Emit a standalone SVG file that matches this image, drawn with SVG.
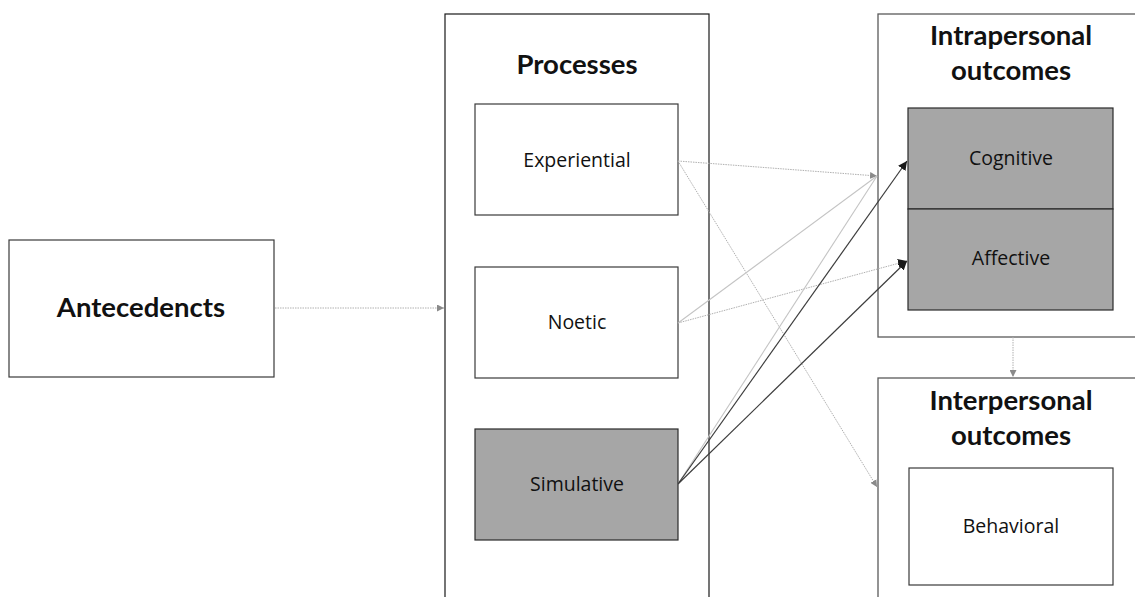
<svg xmlns="http://www.w3.org/2000/svg" width="1135" height="597" viewBox="0 0 1135 597">
  <style>
    .box { fill: #ffffff; stroke: #3a3a3a; stroke-width: 1.2; }
    .outer { fill: #ffffff; stroke: #1a1a1a; stroke-width: 1.2; }
    .group { fill: #ffffff; stroke: #5a5a5a; stroke-width: 1.3; }
    .shaded { fill: #a6a6a6; stroke: #2a2a2a; stroke-width: 1.2; }
    .title { font-family: Lato, "Open Sans", sans-serif; font-weight: bold; font-size: 27.5px; fill: #111; text-anchor: middle; }
    .label { font-family: "Open Sans", Lato, sans-serif; font-size: 19.5px; fill: #111; text-anchor: middle; }
    .light { fill: none; stroke: #b0b0b0; stroke-width: 1; stroke-dasharray: 1.5 1; }
    .lightsolid { fill: none; stroke: #c4c4c4; stroke-width: 1.1; }
    .dark { fill: none; stroke: #3c3c3c; stroke-width: 1.2; }
  </style>
  <defs>
    <marker id="tipGray" viewBox="0 0 10 10" refX="10" refY="5" markerWidth="7" markerHeight="7" markerUnits="userSpaceOnUse" orient="auto">
      <path d="M0,0 L10,5 L0,10 z" fill="#8a8a8a"/>
    </marker>
    <marker id="tipDark" viewBox="0 0 10 10" refX="10" refY="5" markerWidth="9" markerHeight="9" markerUnits="userSpaceOnUse" orient="auto">
      <path d="M0,0 L10,5 L0,10 z" fill="#1a1a1a"/>
    </marker>
  </defs>

  <rect width="1135" height="597" fill="#ffffff"/>

  <g id="antecedents">
    <rect class="box" x="9" y="240" width="265" height="137"/>
    <text class="title" x="141" y="317">Antecedencts</text>
  </g>

  <g id="processes">
    <rect class="outer" x="445" y="14" width="264" height="600"/>
    <text class="title" x="577" y="74">Processes</text>
  </g>
  <g id="experiential">
    <rect class="box" x="475" y="104" width="203" height="111"/>
    <text class="label" x="577" y="167">Experiential</text>
  </g>
  <g id="noetic">
    <rect class="box" x="475" y="267" width="203" height="111"/>
    <text class="label" x="577" y="329">Noetic</text>
  </g>
  <g id="simulative">
    <rect class="shaded" x="475" y="429" width="203" height="111"/>
    <text class="label" x="577" y="491">Simulative</text>
  </g>

  <g id="intrapersonal">
    <rect class="group" x="878" y="14" width="270" height="323"/>
    <text class="title" x="1011" y="45">Intrapersonal</text>
    <text class="title" x="1011" y="80">outcomes</text>
  </g>
  <g id="cognitive">
    <rect class="shaded" x="908" y="108" width="205" height="101"/>
    <text class="label" x="1011" y="165">Cognitive</text>
  </g>
  <g id="affective">
    <rect class="shaded" x="908" y="209" width="205" height="101"/>
    <text class="label" x="1011" y="265">Affective</text>
  </g>

  <g id="interpersonal">
    <rect class="group" x="878" y="378" width="270" height="240"/>
    <text class="title" x="1011" y="410">Interpersonal</text>
    <text class="title" x="1011" y="445">outcomes</text>
  </g>
  <g id="behavioral">
    <rect class="box" x="909" y="468" width="204" height="117"/>
    <text class="label" x="1011" y="533">Behavioral</text>
  </g>

  <g id="connectors">
    <line class="light" x1="275" y1="308" x2="444" y2="308" marker-end="url(#tipGray)"/>
    <line class="light" x1="678" y1="161" x2="877" y2="176" marker-end="url(#tipGray)"/>
    <line class="light" x1="678" y1="161" x2="877" y2="487" marker-end="url(#tipGray)"/>
    <line class="lightsolid" x1="678" y1="323" x2="877" y2="176"/>
    <line class="light" x1="678" y1="323" x2="907" y2="261" marker-end="url(#tipDark)"/>
    <line class="lightsolid" x1="678" y1="484" x2="877" y2="176"/>
    <line class="dark" x1="678" y1="484" x2="907" y2="161" marker-end="url(#tipDark)"/>
    <line class="dark" x1="678" y1="484" x2="907" y2="261" marker-end="url(#tipDark)"/>
    <line class="light" x1="1013" y1="337" x2="1013" y2="377" marker-end="url(#tipGray)"/>
  </g>
</svg>
